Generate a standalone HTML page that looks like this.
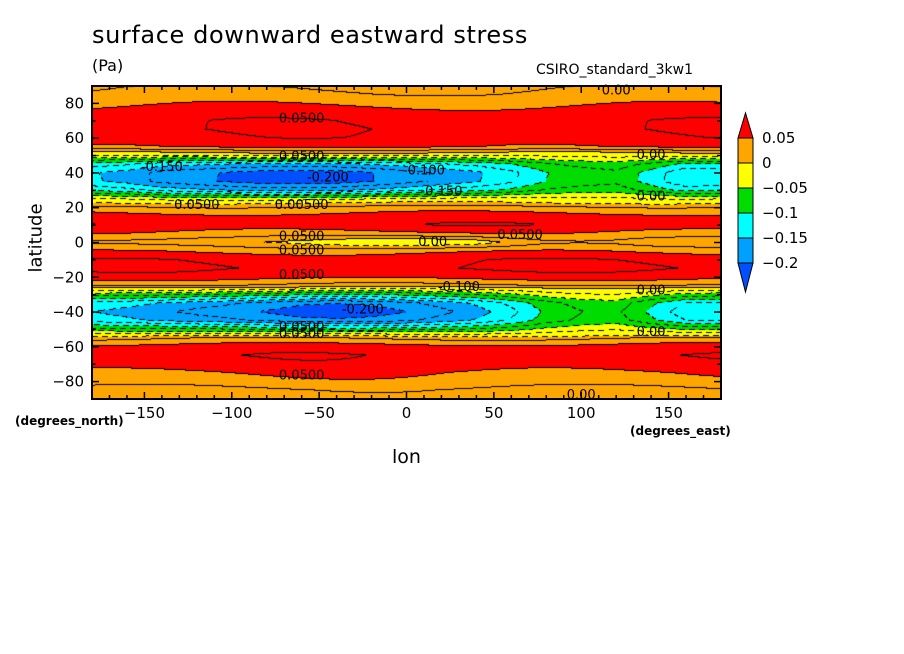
<!DOCTYPE html>
<html><head><meta charset="utf-8"><style>
body{margin:0;background:#fff;width:904px;height:654px;overflow:hidden;position:relative;font-family:"DejaVu Sans","Liberation Sans",sans-serif}
.t{position:absolute;color:#000;white-space:nowrap}
</style></head><body>
<div class="t" style="left:92px;top:21px;font-size:24px;letter-spacing:0.6px">surface downward eastward stress</div>
<div class="t" style="left:92px;top:56px;font-size:16px">(Pa)</div>
<div class="t" style="left:536px;top:62px;font-size:14px">CSIRO_standard_3kw1</div>
<div class="t" style="left:6px;top:232px;font-size:18px;transform:rotate(-90deg);transform-origin:center;width:60px;text-align:center">latitude</div>
<div class="t" style="left:392px;top:446px;font-size:19px">lon</div>
<div class="t" style="left:15px;top:414px;font-size:12px;font-weight:bold">(degrees_north)</div>
<div class="t" style="left:630px;top:424px;font-size:12px;font-weight:bold">(degrees_east)</div>
<canvas id="cv" width="904" height="654" style="position:absolute;left:0;top:0"></canvas>
<svg id="sv" width="904" height="654" style="position:absolute;left:0;top:0"></svg>
<script>
const lats=[90,85,80,75,70,65,60,55,50,45,40,35,30,25,20,15,10,5,0,-5,-10,-15,-20,-25,-30,-35,-40,-45,-50,-55,-60,-65,-70,-75,-80,-85,-90];
const profile=[0.02,0.03,0.045,0.06,0.07,0.072,0.068,0.055,-0.02,-0.14,-0.19,-0.19,-0.14,-0.03,0.03,0.06,0.07,0.045,0.012,0.045,0.07,0.075,0.06,0.02,-0.08,-0.17,-0.19,-0.17,-0.08,0.02,0.06,0.07,0.065,0.05,0.04,0.02,0.01];
const lons=[-180,-160,-140,-120,-100,-80,-60,-40,-20,0,20,40,60,80,100,120,140,160,180];
const jetN=[0.75,0.8,0.92,0.98,1.05,1.12,1.15,1.15,1.1,1.02,0.92,0.82,0.68,0.5,0.42,0.38,0.55,0.75,0.75];
const jetS=[0.78,0.85,0.93,1.0,1.05,1.1,1.15,1.15,1.1,1.02,0.92,0.82,0.68,0.5,0.42,0.4,0.6,0.78,0.78];
const eqAdj=[0,0,0,0,0,-0.005,-0.01,-0.02,-0.03,-0.035,-0.035,-0.03,-0.015,0,0.005,0.005,0,0,0];
const levels=[0.05,0,-0.05,-0.1,-0.15,-0.2];
const colors=['#ff0000','#ffa500','#ffff00','#00dc00','#00ffff','#00a0ff','#0050ff'];
const X0=92,X1=721,Y0=86,Y1=399;
const xs=lon=>X0+(lon+180)/360*(X1-X0);
const ys=lat=>Y0+(90-lat)/180*(Y1-Y0);
function interp(arr,grid,v){for(let i=0;i<grid.length-1;i++){const a=grid[i],b=grid[i+1];if((v-a)*(v-b)<=0){const t=(v-a)/(b-a);return arr[i]+(arr[i+1]-arr[i])*t;}}return arr[arr.length-1];}
function val(lon,lat){let p=interp(profile,lats,lat);
 if(p<0){p*=interp(lat>0?jetN:jetS,lons,lon);}
 p+=interp(eqAdj,lons,lon)*Math.exp(-lat*lat/12);
 p+=0.008*Math.sin((lon+lat*2)/40);return p;}
function cls(v){let c=0;for(const l of levels){if(v<l)c++;}return c;}
const ctx=document.getElementById('cv').getContext('2d');
const W=X1-X0,H=Y1-Y0;const img=ctx.createImageData(W,H);
const V=[];for(let j=0;j<H;j++){V[j]=[];for(let i=0;i<W;i++){const lon=-180+(i+0.5)/W*360,lat=90-(j+0.5)/H*180;V[j][i]=val(lon,lat);}}
function hex(c){return[parseInt(c.substr(1,2),16),parseInt(c.substr(3,2),16),parseInt(c.substr(5,2),16)];}
for(let j=0;j<H;j++)for(let i=0;i<W;i++){const v=V[j][i];let rgb=hex(colors[cls(v)]);
 const k=Math.floor(v/0.025);let edge=false;
 if(i<W-1&&Math.floor(V[j][i+1]/0.025)!==k)edge=true;
 if(j<H-1&&Math.floor(V[j+1][i]/0.025)!==k)edge=true;
 if(edge&&(v>=0||((i+j)%10)<6))rgb=[0,0,0];
 const o=(j*W+i)*4;img.data[o]=rgb[0];img.data[o+1]=rgb[1];img.data[o+2]=rgb[2];img.data[o+3]=255;}
ctx.putImageData(img,X0,Y0);
const sv=document.getElementById('sv');const NS='http://www.w3.org/2000/svg';
function mk(tag,at,txt){const e=document.createElementNS(NS,tag);for(const k in at)e.setAttribute(k,at[k]);if(txt!==undefined)e.textContent=txt;sv.appendChild(e);return e;}
const fr=mk('rect',{x:X0,y:Y0,width:W,height:H,fill:'none',stroke:'#000','stroke-width':2});


for(let lon=-180;lon<=180;lon+=10){const big=lon%50===0;const x=xs(lon);
 mk('line',{x1:x,x2:x,y1:Y0,y2:Y0+(big?7:4),stroke:'#000','stroke-width':1.5});
 mk('line',{x1:x,x2:x,y1:Y1,y2:Y1-(big?7:4),stroke:'#000','stroke-width':1.5});}
const xticks=[-150,-100,-50,0,50,100,150];
for(const t of xticks){const e=mk('text',{x:xs(t),y:418,'text-anchor':'middle','font-size':15,'font-family':'DejaVu Sans,sans-serif'},t<0?'\u2212'+(-t):String(t));
 
 }
const yticks=[80,60,40,20,0,-20,-40,-60,-80];
for(let lat=-90;lat<=90;lat+=10){const big=lat%20===0;const y=ys(lat);
 mk('line',{x1:X0,x2:X0+(big?7:4),y1:y,y2:y,stroke:'#000','stroke-width':1.5});
 mk('line',{x1:X1,x2:X1-(big?7:4),y1:y,y2:y,stroke:'#000','stroke-width':1.5});}
for(const t of yticks){const e=mk('text',{x:84,y:ys(t)+5,'text-anchor':'end','font-size':15,'font-family':'DejaVu Sans,sans-serif'},t<0?'\u2212'+(-t):String(t));
 
 }
const clabels=[[-60,72,'0.0500'],[-60,50,'0.0500'],[-140,44,'-0.150'],[-45,38,'-0.200'],[10,42,'-0.100'],[20,30,'-0.150'],[-120,22,'0.0500'],[-60,22,'0.00500'],[-60,4,'0.0500'],[-60,-4,'0.0500'],[15,1,'0.00'],[65,5,'0.0500'],[140,51,'0.00'],[140,27,'0.00'],[-60,-18,'0.0500'],[30,-25,'-0.100'],[-25,-38,'-0.200'],[-60,-48,'0.0500'],[-60,-52,'0.0500'],[140,-27,'0.00'],[140,-51,'0.00'],[-60,-76,'0.0500'],[100,-87,'0.00'],[120,88,'0.00']];
for(const c of clabels){const e=mk('text',{x:xs(c[0]),y:ys(c[1])+5,'text-anchor':'middle','font-size':13,'font-family':'DejaVu Sans,sans-serif'},c[2]);
 
 }
const cbX=738,cbW=15,cbTop=138,cbH=25;
const tri=mk('polygon',{points:`${cbX},${cbTop} ${cbX+cbW},${cbTop} ${cbX+cbW/2},113`,fill:colors[0],stroke:'#000'});


for(let k=1;k<6;k++){const r=mk('rect',{x:cbX,y:cbTop+(k-1)*cbH,width:cbW,height:cbH,fill:colors[k],stroke:'#000'});
 
 }
const tri2=mk('polygon',{points:`${cbX},${cbTop+5*cbH} ${cbX+cbW},${cbTop+5*cbH} ${cbX+cbW/2},292`,fill:colors[6],stroke:'#000'});


const cbl=['0.05','0','\u22120.05','\u22120.1','\u22120.15','\u22120.2'];
for(let k=0;k<6;k++){const e=mk('text',{x:762,y:cbTop+k*cbH+5,'font-size':15,'font-family':'DejaVu Sans,sans-serif'},cbl[k]);
 
 }
</script>
</body></html>
